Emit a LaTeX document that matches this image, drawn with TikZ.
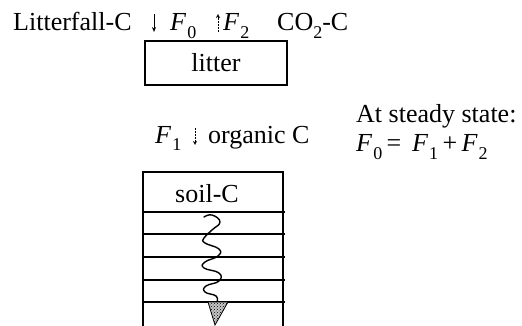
\documentclass[tikz,border=0pt]{standalone}
\usepackage{fontspec}
\setmainfont{Liberation Serif}
\usetikzlibrary{arrows.meta,patterns}
\newcommand\Fs[1]{\textit{F}\kern1pt\raisebox{-0.3em}{\fontsize{18}{18}\selectfont #1}}
\tikzset{
  lbl/.style={anchor=base west, inner sep=0pt, font=\fontsize{26}{30}\selectfont},
  flux/.style={line width=0.7pt, -{Stealth[length=5pt,width=4pt]}},
  thinflux/.style={line width=0.5pt, densely dotted, -{Stealth[length=4pt,width=4pt,open]}},
  boxline/.style={line width=1.1pt},
}
\begin{document}
\begin{tikzpicture}[x=1pt,y=-1pt]
\useasboundingbox (0,0) rectangle (522,326);
% top line
\node[lbl] (lf) at (13,31) {Litterfall-C};
\coordinate (a0t) at (154,14);
\coordinate (a0b) at (154,32);
\draw[flux] (a0t) -- (a0b);
\node[lbl] (f0) at (170,31) {\Fs{0}};
\coordinate (a2b) at (218,32);
\coordinate (a2t) at (218,14);
\draw[thinflux] (a2b) -- (a2t);
\node[lbl] (f2) at (223,31) {\Fs{2}};
\node[lbl] (co2) at (277,31) {CO\raisebox{-0.3em}{\fontsize{18}{18}\selectfont 2}-C};
% litter box
\node[boxline, draw, minimum width=142pt, minimum height=44pt, inner sep=0pt,
      font=\fontsize{26}{30}\selectfont] (litter) at (216,63) {litter};
% F1 line
\node[lbl] (f1) at (155,143) {\Fs{1}};
\coordinate (a1t) at (195,128);
\coordinate (a1b) at (195,145);
\draw[thinflux] (a1t) -- (a1b);
\node[lbl] (org) at (208,143) {organic C};
% steady state
\node[lbl] (ss) at (356,123) {At steady state:};
\node[lbl] (eq) at (356,152) {\Fs{0}\,=\, \Fs{1}\,+\,\Fs{2}};
% soil column
\coordinate (tl) at (143,172);
\coordinate (tr) at (283,172);
\coordinate (bl) at (143,326);
\coordinate (br) at (283,326);
\draw[boxline] (bl) -- (tl) -- (tr) -- (br);
\foreach \yy in {212,234,257,280,302}{
  \draw[boxline] (143,\yy) -- (285,\yy);
}
\node[font=\fontsize{26}{30}\selectfont, inner sep=0pt] (soil) at (207,194) {soil-C};
% wavy path
\draw[line width=1.4pt, line cap=round] plot[smooth, tension=0.8] coordinates {
  (204,217) (212,215) (220,222) (212,230) (204,238) (205,243) (219,249) (218,256) (205,262) (204,268) (219,273) (219,281) (206,286) (205,292) (216,296) (217,302)};
\fill[gray!45] (208,302) -- (228,302) -- (215,325) -- cycle;
\draw[line width=0.8pt, pattern=crosshatch dots, pattern color=black] (208,302) -- (228,302) -- (215,325) -- cycle;
\end{tikzpicture}
\end{document}
